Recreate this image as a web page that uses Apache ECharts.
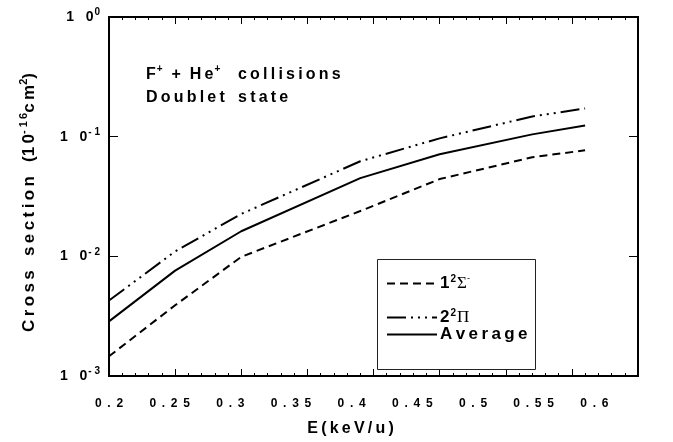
<!DOCTYPE html>
<html>
<head>
<meta charset="utf-8">
<script src="https://cdn.jsdelivr.net/npm/echarts@6/dist/echarts.min.js"></script>
<style>html,body{margin:0;padding:0;background:#fff}#c{width:673px;height:442px}</style>
</head>
<body>
<div id="c"></div>
<script>
// ---- data ----
const energy   = [0.2, 0.25, 0.3, 0.39, 0.45, 0.52, 0.56];          // keV/u
const sigma12  = [0.00146, 0.0039, 0.0099, 0.0239, 0.0442, 0.0673, 0.0769];
const pi22     = [0.00427, 0.0110, 0.0226, 0.0623, 0.0968, 0.1475, 0.172];
const average  = [0.00286, 0.0076, 0.0162, 0.045, 0.0713, 0.1045, 0.124];
const xTickLabels = ['0.2','0.25','0.3','0.35','0.4','0.45','0.5','0.55','0.6'];
const seriesNames = ['1\u00b2\u03a3\u207b', '2\u00b2\u03a0', 'Average'];

const HS = '\u200A';
const TS = '\u2009';
const spaced = (s, g) => s.split('').join(g || HS);
const FONT = '"Liberation Sans", Arial, sans-serif';

const pairs = ys => energy.map((x, i) => [x, ys[i]]);

const chart = echarts.init(document.getElementById('c'), null, {renderer: 'canvas'});

const tickAxisX = (pos) => ({
  type: 'value', min: 0.2, max: 0.6, interval: 0.05, position: pos,
  axisLine: {show: false}, splitLine: {show: false},
  axisTick: {show: true, inside: true, length: 7, lineStyle: {color: '#000', width: 1}},
  minorTick: {show: true, splitNumber: 5, length: 3, lineStyle: {color: '#000', width: 1}},
  axisLabel: {show: false}
});
const tickAxisY = (pos) => ({
  type: 'log', logBase: 10, min: 0.001, max: 1, position: pos,
  axisLine: {show: false}, splitLine: {show: false},
  axisTick: {show: true, inside: true, length: 9, lineStyle: {color: '#000', width: 1}},
  axisLabel: {show: false}
});

const legendRich = {
  b: {fontFamily: FONT, fontWeight: 'bold', fontSize: 17, color: '#000', lineHeight: 18},
  s: {fontFamily: FONT, fontWeight: 'bold', fontSize: 10, color: '#000', lineHeight: 10, padding: [0, 1, 9, 1]},
  g: {fontFamily: '"Liberation Serif", "DejaVu Serif", serif', fontSize: 17, color: '#000', lineHeight: 18},
  gs: {fontFamily: FONT, fontSize: 9, color: '#000', lineHeight: 10, padding: [0, 0, 10, 0]}
};
const legendFmt = {
  [seriesNames[0]]: '{b|1}{s|2}{g|\u03a3}{gs|-}',
  [seriesNames[1]]: '{b|2}{s|2}{g|\u03a0}',
  [seriesNames[2]]: '{b|' + spaced('Average', TS) + '}'
};
const mkLegend = (name, top) => ({
  data: [name], left: 386, top: top, orient: 'horizontal',
  itemWidth: 50, itemHeight: 14, itemGap: 0, padding: 0,
  selectedMode: false,
  itemStyle: {opacity: 0},
  formatter: n => legendFmt[n],
  textStyle: {rich: legendRich, padding: [0, 0, 0, -2]}
});

const option = {
  animation: false,
  backgroundColor: '#fff',
  grid: {left: 109, top: 17, right: 35, bottom: 64, show: true, borderColor: '#000', borderWidth: 2, backgroundColor: 'transparent'},
  xAxis: [
    tickAxisX('bottom'),
    tickAxisX('top'),
    {
      type: 'value', min: 0.2, max: 0.636, interval: 0.05, position: 'bottom',
      axisLine: {show: false}, axisTick: {show: false}, splitLine: {show: false},
      axisLabel: {
        show: true, margin: 22, showMaxLabel: false,
        fontFamily: FONT, fontWeight: 'bold', fontSize: 12, color: '#000',
        formatter: v => {
          const i = Math.round((v - 0.2) / 0.05);
          const t = xTickLabels[i];
          return t ? t.split('').join(' \u2009') : '';
        }
      },
      name: spaced('E(keV/u)', TS), nameLocation: 'middle', nameGap: 45,
      nameTextStyle: {fontFamily: FONT, fontWeight: 'bold', fontSize: 16, color: '#000', padding: [0, 46, 0, 0]}
    }
  ],
  yAxis: [
    Object.assign(tickAxisY('left'), {
      axisLabel: {
        show: true, margin: 9,
        formatter: v => {
          const e = Math.round(Math.log10(v));
          return '{b|1   0}{s|' + (e === 0 ? '0' : '- ' + (-e)) + '}';
        },
        rich: {
          b: {fontFamily: FONT, fontWeight: 'bold', fontSize: 14, color: '#000', lineHeight: 15},
          s: {fontFamily: FONT, fontWeight: 'bold', fontSize: 10, color: '#000', lineHeight: 10, padding: [0, 0, 9, 1]}
        }
      },
      name: '{b|' + spaced('Cross', TS) + '   ' + spaced('section', TS) + '   (' + spaced('10', TS) + '}{s|' + '- ' + spaced('16', TS) + '}{b|c' + TS + 'm}{s|2}{b|)}',
      nameLocation: 'middle', nameRotate: 90, nameGap: 70,
      nameTextStyle: {
        padding: [0, 12, 0, 0],
        rich: {
          b: {fontFamily: FONT, fontWeight: 'bold', fontSize: 17, color: '#000', lineHeight: 20},
          s: {fontFamily: FONT, fontWeight: 'bold', fontSize: 11, color: '#000', lineHeight: 11, padding: [0, 0, 10, 0]}
        }
      }
    }),
    tickAxisY('right')
  ],
  legend: [
    mkLegend(seriesNames[0], 274),
    mkLegend(seriesNames[1], 308),
    mkLegend(seriesNames[2], 326)
  ],
  graphic: [
    {
      type: 'rect', left: 377, top: 259, silent: true,
      shape: {width: 158, height: 110},
      style: {fill: 'transparent', stroke: '#222', lineWidth: 1}, z: 10
    },
    {
      type: 'text', left: 146, top: 64, silent: true, z: 10,
      style: {
        text: '{b|F}{s|+}{b|  +  ' + spaced('He', TS) + '}{s|+}{b|    ' + spaced('collisions', TS) + '}\n{b|' + spaced('Doublet', TS) + '   ' + spaced('state', TS) + '}',
        rich: {
          b: {fontFamily: FONT, fontWeight: 'bold', fontSize: 16, fill: '#000', lineHeight: 23},
          s: {fontFamily: FONT, fontWeight: 'bold', fontSize: 10, fill: '#000', lineHeight: 10, padding: [0, 0, 12, 1]}
        }
      }
    }
  ],
  series: [
    {name: seriesNames[0], type: 'line', xAxisIndex: 0, yAxisIndex: 0, data: pairs(sigma12), symbol: 'none', silent: true,
     lineStyle: {color: '#000', width: 2, type: [8, 5]}, itemStyle: {color: '#000'}},
    {name: seriesNames[1], type: 'line', xAxisIndex: 0, yAxisIndex: 0, data: pairs(pi22), symbol: 'none', silent: true,
     lineStyle: {color: '#000', width: 2, type: [19, 5, 2, 5, 2, 5, 2, 5]}, itemStyle: {color: '#000'}},
    {name: seriesNames[2], type: 'line', xAxisIndex: 0, yAxisIndex: 0, data: pairs(average), symbol: 'none', silent: true,
     lineStyle: {color: '#000', width: 2, type: 'solid'}, itemStyle: {color: '#000'}}
  ]
};
chart.setOption(option);
</script>
</body>
</html>
